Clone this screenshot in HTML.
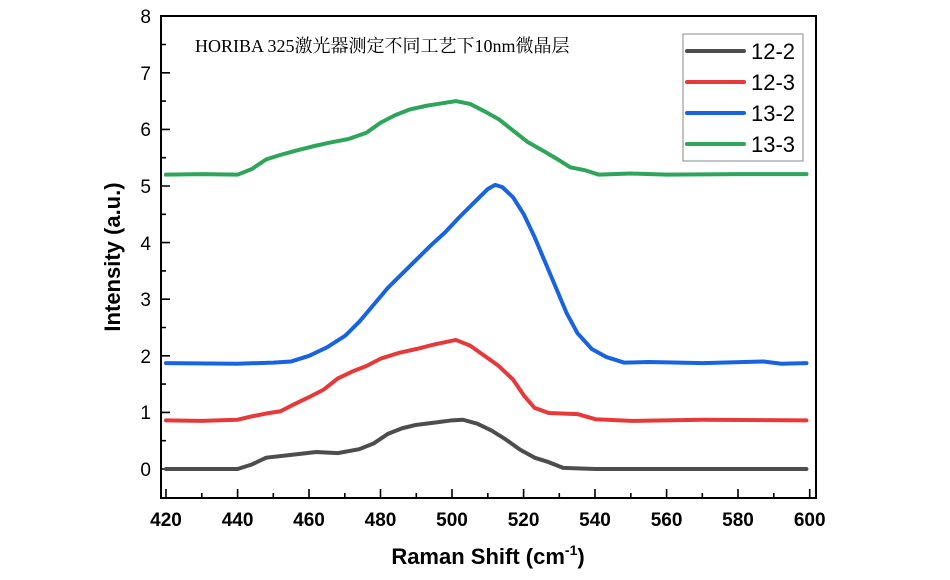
<!DOCTYPE html><html><head><meta charset="utf-8"><style>body{margin:0;background:#fff}svg{display:block}text{font-family:"Liberation Sans",Arial,sans-serif}</style></head><body>
<svg width="950" height="580" viewBox="0 0 950 580">
<rect x="161" y="16" width="655" height="482" fill="none" stroke="#000" stroke-width="2"/>
<g stroke="#000" stroke-width="1.6">
<path d="M166 498v-9M237.6 498v-9M309 498v-9M380.5 498v-9M452 498v-9M523.6 498v-9M595 498v-9M666.6 498v-9M738 498v-9M809.7 498v-9"/>
<path d="M201.8 498v-5M273.3 498v-5M344.8 498v-5M416.3 498v-5M487.8 498v-5M559.3 498v-5M630.8 498v-5M702.3 498v-5M773.8 498v-5"/>
<path d="M161 469h9M161 412.4h9M161 355.8h9M161 299.2h9M161 242.6h9M161 186h9M161 129.4h9M161 72.8h9M161 16h9"/>
<path d="M161 440.7h5M161 384.1h5M161 327.5h5M161 270.9h5M161 214.3h5M161 157.7h5M161 101.1h5M161 44.5h5"/>
</g>
<g font-size="19" text-anchor="end">
<text x="151" y="476">0</text><text x="151" y="419">1</text><text x="151" y="363">2</text><text x="151" y="306">3</text><text x="151" y="250">4</text><text x="151" y="193">5</text><text x="151" y="136">6</text><text x="151" y="80">7</text><text x="151" y="23">8</text>
</g>
<g font-size="19" font-weight="bold" text-anchor="middle">
<text x="166" y="526">420</text><text x="237.6" y="526">440</text><text x="309" y="526">460</text><text x="380.5" y="526">480</text><text x="452" y="526">500</text><text x="523.6" y="526">520</text><text x="595" y="526">540</text><text x="666.6" y="526">560</text><text x="738" y="526">580</text><text x="809.7" y="526">600</text>
</g>
<text x="488" y="564" font-size="22" font-weight="bold" text-anchor="middle">Raman Shift (cm<tspan font-size="14" dy="-9">-1</tspan><tspan dy="9">)</tspan></text>
<text transform="translate(120 257) rotate(-90)" font-size="22" font-weight="bold" text-anchor="middle">Intensity (a.u.)</text>
<text x="195" y="52" font-size="18" style='font-family:"Liberation Serif","Noto Serif CJK SC",serif'>HORIBA 325激光器测定不同工艺下10nm微晶层</text>
<g fill="none" stroke-width="4" stroke-linejoin="round" stroke-linecap="round" transform="translate(166 469) scale(3.578 -56.6) translate(-420 0)">
<polyline vector-effect="non-scaling-stroke" stroke="#4d4d4d" points="420,0 430,0 440,0 444,0.08 448,0.2 455,0.25 462,0.3 468,0.28 474,0.35 478,0.45 482,0.62 486,0.72 490,0.78 495,0.82 500,0.86 503,0.87 507,0.8 511,0.68 515,0.52 519,0.34 523,0.2 527,0.12 531,0.02 540,0 560,0 580,0 599,0"/>
<polyline vector-effect="non-scaling-stroke" stroke="#e8393a" points="420,0.86 430,0.85 440,0.87 444,0.93 448,0.98 452,1.02 456,1.15 460,1.27 464,1.4 468,1.6 472,1.72 476,1.82 480,1.95 485,2.05 490,2.12 495,2.2 501,2.28 505,2.18 509,2.0 513,1.82 517,1.58 520,1.3 523,1.08 527,0.99 535,0.97 540,0.88 550,0.85 570,0.87 599,0.86"/>
<polyline vector-effect="non-scaling-stroke" stroke="#1863e0" points="420,1.87 440,1.86 450,1.88 455,1.9 460,2.0 465,2.15 470,2.35 474,2.6 478,2.9 482,3.2 486,3.45 490,3.7 494,3.95 498,4.18 502,4.45 506,4.7 510,4.95 512,5.02 514,4.98 517,4.8 520,4.5 523,4.1 526,3.65 529,3.2 532,2.75 535,2.4 539,2.12 543,1.98 548,1.88 555,1.89 570,1.87 587,1.9 592,1.86 599,1.87"/>
<polyline vector-effect="non-scaling-stroke" stroke="#2ea55a" points="420,5.2 430,5.21 440,5.2 444,5.3 448,5.47 452,5.55 456,5.62 461,5.7 466,5.77 471,5.83 476,5.94 480,6.12 484,6.25 488,6.35 493,6.42 498,6.47 501,6.5 505,6.45 509,6.32 513,6.18 517,5.98 521,5.78 526,5.6 530,5.45 533,5.33 537,5.28 541,5.2 550,5.22 560,5.2 580,5.21 599,5.21"/>
</g>
<rect x="683" y="34" width="120" height="127" fill="#fff" stroke="#888" stroke-width="1"/>
<g stroke-width="4" stroke-linecap="round">
<path d="M687 51h57" stroke="#4d4d4d"/><path d="M687 82h57" stroke="#e8393a"/><path d="M687 113h57" stroke="#1863e0"/><path d="M687 144h57" stroke="#2ea55a"/>
</g>
<g font-size="22"><text x="751" y="59">12-2</text><text x="751" y="90">12-3</text><text x="751" y="121">13-2</text><text x="751" y="152">13-3</text></g>
</svg></body></html>
